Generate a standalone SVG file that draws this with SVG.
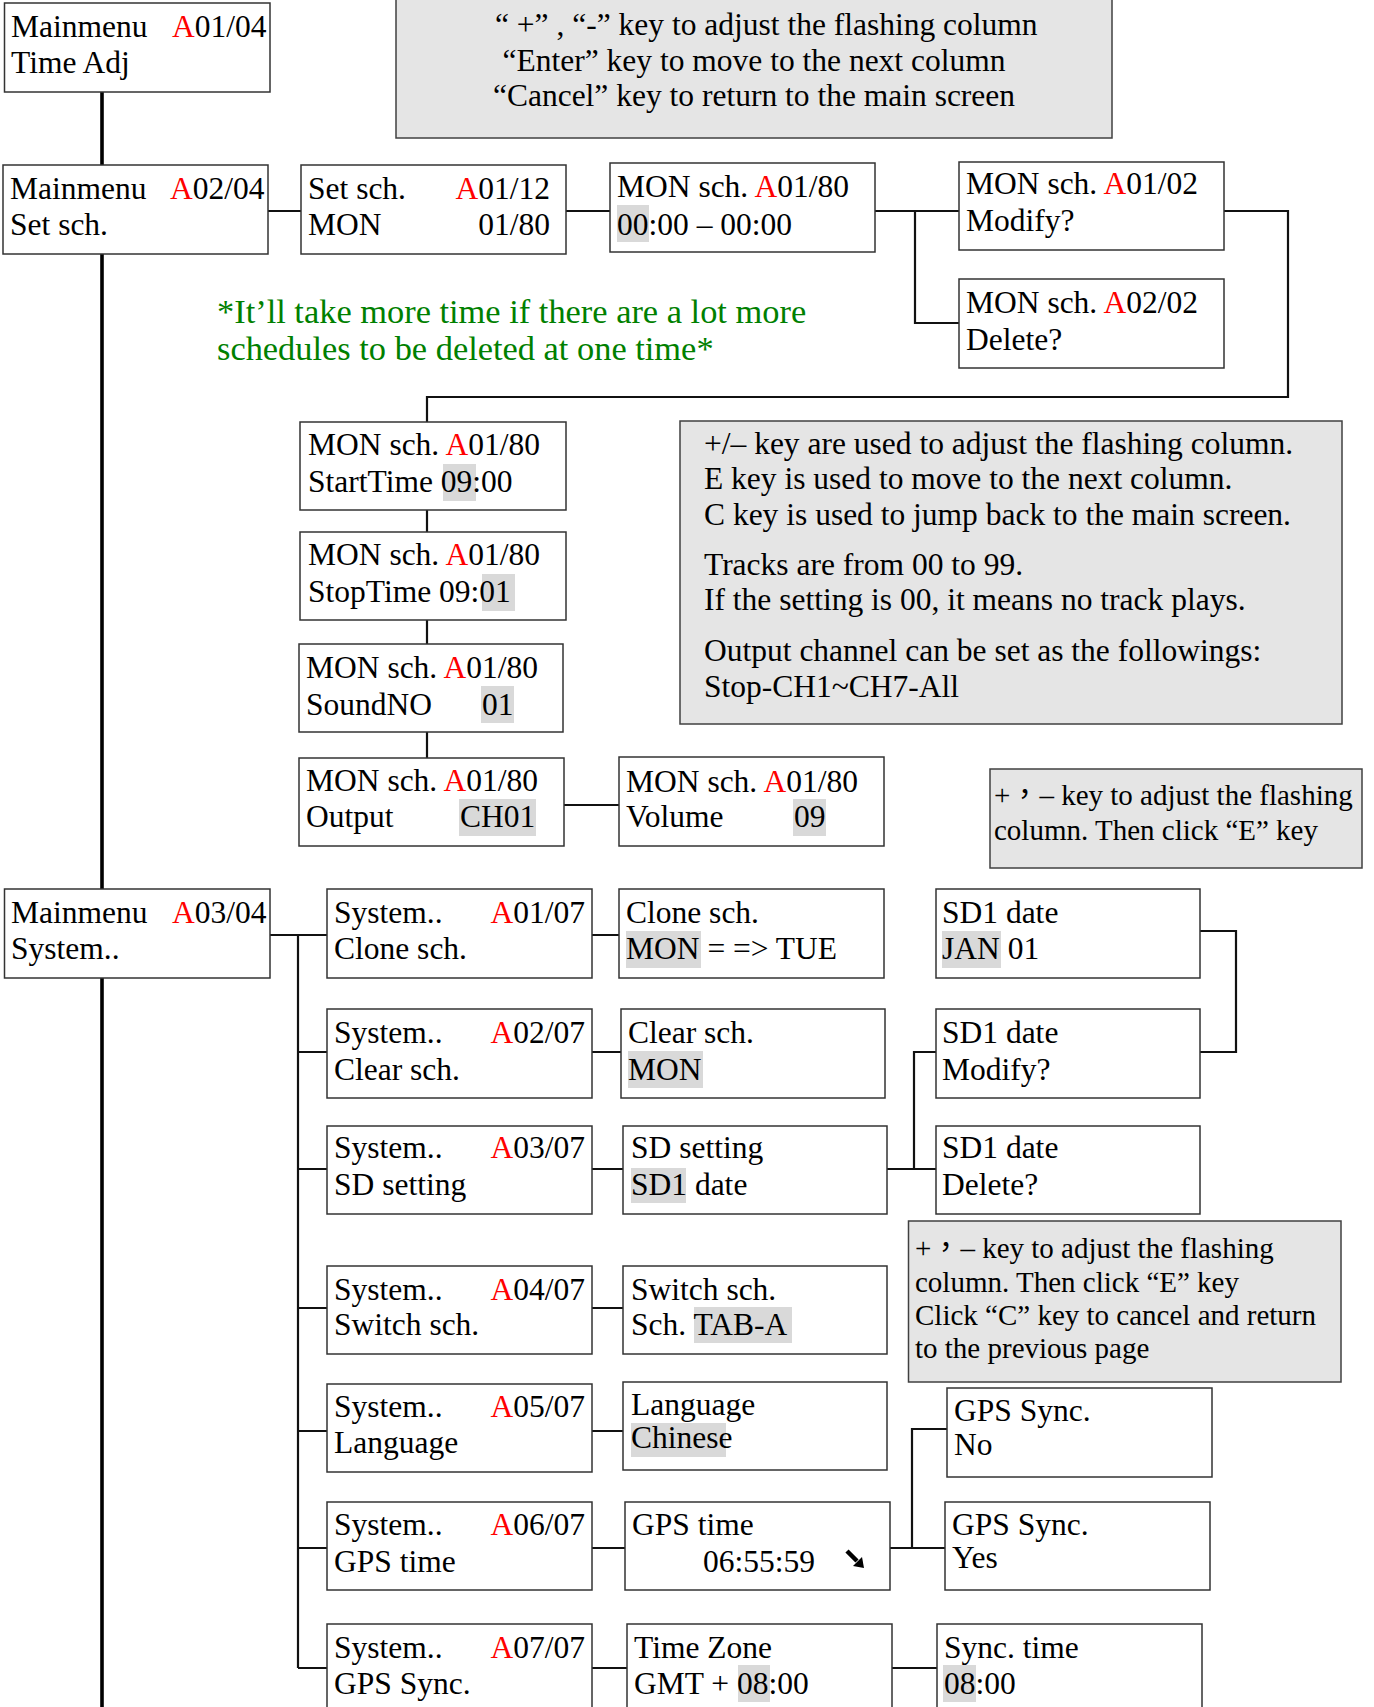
<svg xmlns="http://www.w3.org/2000/svg" width="1374" height="1707" viewBox="0 0 1374 1707">
<style>
.box{fill:#fff;stroke:#333;stroke-width:1.5}
.note{fill:#e5e5e5;stroke:#404040;stroke-width:1.5}
.hl{fill:#d9d9d9}
.t{font-family:"Liberation Serif","Times New Roman",serif;font-size:31.5px;fill:#000}
.s{font-size:29px}
.r{fill:#ff0000}
.g{fill:#008000;font-size:34.4px}
.cjk{font-family:"Noto Sans CJK TC","Liberation Serif",sans-serif}
.c{fill:none;stroke:#111;stroke-width:2.2}
.trunk{fill:none;stroke:#000;stroke-width:3.6}
</style>
<rect width="1374" height="1707" fill="#fff"/>

<g id="connectors">
<path class="trunk" d="M102 92V165M102 254V889M102 978V1707"/>
<path class="c" d="M268 211H301M566 211H610M875 211H959M915 211V323H959"/>
<path class="c" d="M1224 211H1288V397H427V422"/>
<path class="c" d="M427 510V532M427 620V644M427 732V758M564 805H619"/>
<path class="c" d="M270 935H327M298 935V1668M298 1052H327M298 1169H327M298 1308H327M298 1431H327M298 1548H327M298 1668H327"/>
<path class="c" d="M592 935H619M592 1052H621M592 1169H623M592 1308H623M592 1431H623M592 1548H625M592 1668H627"/>
<path class="c" d="M887 1169H936M914 1169V1052H936"/>
<path class="c" d="M1200 931H1236V1052H1200"/>
<path class="c" d="M890 1548H945M912 1548V1429H947"/>
<path class="c" d="M892 1668H937"/>
</g>

<g id="note1">
<rect class="note" x="396" y="-2" width="716" height="140"/>
<text class="t" x="495" y="35">“ +” , “-” key to adjust the flashing column</text>
<text class="t" x="754" y="71" text-anchor="middle">“Enter” key to move to the next column</text>
<text class="t" x="754" y="106" text-anchor="middle">“Cancel” key to return to the main screen</text>
</g>

<g id="n1">
<rect class="box" x="4.5" y="3" width="265.5" height="89"/>
<text class="t" x="11" y="37">Mainmenu</text>
<text class="t" x="172" y="37"><tspan class="r">A</tspan>01/04</text>
<text class="t" x="11" y="73">Time Adj</text>
</g>

<g id="n2">
<rect class="box" x="3" y="165" width="265" height="89"/>
<text class="t" x="10" y="199">Mainmenu</text>
<text class="t" x="170" y="199"><tspan class="r">A</tspan>02/04</text>
<text class="t" x="10" y="235">Set sch.</text>
</g>

<g id="n3">
<rect class="box" x="301" y="165" width="265" height="89"/>
<text class="t" x="308" y="199">Set sch.</text>
<text class="t" x="550" y="199" text-anchor="end"><tspan class="r">A</tspan>01/12</text>
<text class="t" x="308" y="235">MON</text>
<text class="t" x="550" y="235" text-anchor="end">01/80</text>
</g>

<g id="n4">
<rect class="box" x="610" y="163" width="265" height="89"/>
<rect class="hl" x="617" y="205" width="32" height="37"/>
<text class="t" x="617" y="197">MON sch. <tspan class="r">A</tspan>01/80</text>
<text class="t" x="617" y="235">00:00 – 00:00</text>
</g>

<g id="n5">
<rect class="box" x="959" y="162" width="265" height="88"/>
<text class="t" x="966" y="194">MON sch. <tspan class="r">A</tspan>01/02</text>
<text class="t" x="966" y="231">Modify?</text>
</g>

<g id="n6">
<rect class="box" x="959" y="279" width="265" height="89"/>
<text class="t" x="966" y="313">MON sch. <tspan class="r">A</tspan>02/02</text>
<text class="t" x="966" y="350">Delete?</text>
</g>

<g id="note-green">
<text class="t g" x="217" y="323">*It’ll take more time if there are a lot more</text>
<text class="t g" x="217" y="360">schedules to be deleted at one time*</text>
</g>

<g id="n7">
<rect class="box" x="300" y="422" width="266" height="88"/>
<rect class="hl" x="443" y="464" width="33" height="37"/>
<text class="t" x="308" y="455">MON sch. <tspan class="r">A</tspan>01/80</text>
<text class="t" x="308" y="492">StartTime 09:00</text>
</g>

<g id="n8">
<rect class="box" x="300" y="532" width="266" height="88"/>
<rect class="hl" x="482" y="574" width="33" height="37"/>
<text class="t" x="308" y="565">MON sch. <tspan class="r">A</tspan>01/80</text>
<text class="t" x="308" y="602">StopTime 09:01</text>
</g>

<g id="n9">
<rect class="box" x="299" y="644" width="264" height="88"/>
<rect class="hl" x="481" y="686" width="33" height="37"/>
<text class="t" x="306" y="678">MON sch. <tspan class="r">A</tspan>01/80</text>
<text class="t" x="306" y="715">SoundNO</text>
<text class="t" x="482" y="715">01</text>
</g>

<g id="n10">
<rect class="box" x="299" y="758" width="265" height="88"/>
<rect class="hl" x="459" y="799" width="77" height="37"/>
<text class="t" x="306" y="791">MON sch. <tspan class="r">A</tspan>01/80</text>
<text class="t" x="306" y="827">Output</text>
<text class="t" x="460" y="827">CH01</text>
</g>

<g id="n11">
<rect class="box" x="619" y="757" width="265" height="89"/>
<rect class="hl" x="793" y="799" width="33" height="37"/>
<text class="t" x="626" y="792">MON sch. <tspan class="r">A</tspan>01/80</text>
<text class="t" x="626" y="827">Volume</text>
<text class="t" x="794" y="827">09</text>
</g>

<g id="note2">
<rect class="note" x="680" y="421" width="662" height="303"/>
<text class="t" x="704" y="454">+/– key are used to adjust the flashing column.</text>
<text class="t" x="704" y="489">E key is used to move to the next column.</text>
<text class="t" x="704" y="525">C key is used to jump back to the main screen.</text>
<text class="t" x="704" y="575">Tracks are from 00 to 99.</text>
<text class="t" x="704" y="610">If the setting is 00, it means no track plays.</text>
<text class="t" x="704" y="661">Output channel can be set as the followings:</text>
<text class="t" x="704" y="697">Stop-CH1~CH7-All</text>
</g>

<g id="note3">
<rect class="note" x="990" y="769" width="372" height="99"/>
<text class="t s" x="994" y="805">+<tspan class="cjk">，</tspan>– key to adjust the flashing</text>
<text class="t s" x="994" y="840">column. Then click “E” key</text>
</g>

<g id="n12">
<rect class="box" x="4.5" y="889" width="265.5" height="89"/>
<text class="t" x="11" y="923">Mainmenu</text>
<text class="t" x="172" y="923"><tspan class="r">A</tspan>03/04</text>
<text class="t" x="11" y="959">System..</text>
</g>

<g id="n13">
<rect class="box" x="327" y="889" width="265" height="89"/>
<text class="t" x="334" y="923">System..</text>
<text class="t" x="585" y="923" text-anchor="end"><tspan class="r">A</tspan>01/07</text>
<text class="t" x="334" y="959">Clone sch.</text>
</g>

<g id="n14">
<rect class="box" x="619" y="889" width="265" height="89"/>
<rect class="hl" x="626" y="931" width="75" height="37"/>
<text class="t" x="626" y="923">Clone sch.</text>
<text class="t" x="626" y="959">MON = =&gt; TUE</text>
</g>

<g id="n15">
<rect class="box" x="936" y="889" width="264" height="89"/>
<rect class="hl" x="942" y="931" width="59" height="37"/>
<text class="t" x="942" y="923">SD1 date</text>
<text class="t" x="942" y="959">JAN 01</text>
</g>

<g id="n16">
<rect class="box" x="327" y="1009" width="265" height="89"/>
<text class="t" x="334" y="1043">System..</text>
<text class="t" x="585" y="1043" text-anchor="end"><tspan class="r">A</tspan>02/07</text>
<text class="t" x="334" y="1080">Clear sch.</text>
</g>

<g id="n17">
<rect class="box" x="621" y="1009" width="264" height="89"/>
<rect class="hl" x="628" y="1051" width="75" height="37"/>
<text class="t" x="628" y="1043">Clear sch.</text>
<text class="t" x="628" y="1080">MON</text>
</g>

<g id="n18">
<rect class="box" x="936" y="1009" width="264" height="89"/>
<text class="t" x="942" y="1043">SD1 date</text>
<text class="t" x="942" y="1080">Modify?</text>
</g>

<g id="n19">
<rect class="box" x="327" y="1126" width="265" height="88"/>
<text class="t" x="334" y="1158">System..</text>
<text class="t" x="585" y="1158" text-anchor="end"><tspan class="r">A</tspan>03/07</text>
<text class="t" x="334" y="1195">SD setting</text>
</g>

<g id="n20">
<rect class="box" x="623" y="1126" width="264" height="88"/>
<rect class="hl" x="631" y="1168" width="55" height="35"/>
<text class="t" x="631" y="1158">SD setting</text>
<text class="t" x="631" y="1195">SD1 date</text>
</g>

<g id="n21">
<rect class="box" x="936" y="1126" width="264" height="88"/>
<text class="t" x="942" y="1158">SD1 date</text>
<text class="t" x="942" y="1195">Delete?</text>
</g>

<g id="note4">
<rect class="note" x="908.5" y="1221" width="432.5" height="161"/>
<text class="t s" x="915" y="1258">+<tspan class="cjk">，</tspan>– key to adjust the flashing</text>
<text class="t s" x="915" y="1292">column. Then click “E” key</text>
<text class="t s" x="915" y="1325">Click “C” key to cancel and return</text>
<text class="t s" x="915" y="1358">to the previous page</text>
</g>

<g id="n22">
<rect class="box" x="327" y="1266" width="265" height="88"/>
<text class="t" x="334" y="1300">System..</text>
<text class="t" x="585" y="1300" text-anchor="end"><tspan class="r">A</tspan>04/07</text>
<text class="t" x="334" y="1335">Switch sch.</text>
</g>

<g id="n23">
<rect class="box" x="623" y="1266" width="264" height="88"/>
<rect class="hl" x="694" y="1307" width="98" height="36"/>
<text class="t" x="631" y="1300">Switch sch.</text>
<text class="t" x="631" y="1335">Sch. TAB-A</text>
</g>

<g id="n24">
<rect class="box" x="327" y="1384" width="265" height="88"/>
<text class="t" x="334" y="1417">System..</text>
<text class="t" x="585" y="1417" text-anchor="end"><tspan class="r">A</tspan>05/07</text>
<text class="t" x="334" y="1453">Language</text>
</g>

<g id="n25">
<rect class="box" x="623" y="1382" width="264" height="88"/>
<rect class="hl" x="631" y="1423" width="95" height="34"/>
<text class="t" x="631" y="1415">Language</text>
<text class="t" x="631" y="1448">Chinese</text>
</g>

<g id="n26">
<rect class="box" x="327" y="1502" width="265" height="88"/>
<text class="t" x="334" y="1535">System..</text>
<text class="t" x="585" y="1535" text-anchor="end"><tspan class="r">A</tspan>06/07</text>
<text class="t" x="334" y="1572">GPS time</text>
</g>

<g id="n27">
<rect class="box" x="625" y="1502" width="265" height="88"/>
<text class="t" x="632" y="1535">GPS time</text>
<text class="t" x="703" y="1572">06:55:59</text>
<path d="M847 1551L857 1561" stroke="#000" stroke-width="4.5" fill="none"/>
<polygon points="864,1568 853,1566 862,1557" fill="#000"/>
</g>

<g id="n28">
<rect class="box" x="947" y="1388" width="265" height="89"/>
<text class="t" x="954" y="1421">GPS Sync.</text>
<text class="t" x="954" y="1455">No</text>
</g>

<g id="n29">
<rect class="box" x="945" y="1502" width="265" height="88"/>
<text class="t" x="952" y="1535">GPS Sync.</text>
<text class="t" x="952" y="1568">Yes</text>
</g>

<g id="n30">
<rect class="box" x="327" y="1624" width="265" height="100"/>
<text class="t" x="334" y="1658">System..</text>
<text class="t" x="585" y="1658" text-anchor="end"><tspan class="r">A</tspan>07/07</text>
<text class="t" x="334" y="1694">GPS Sync.</text>
</g>

<g id="n31">
<rect class="box" x="627" y="1624" width="265" height="100"/>
<rect class="hl" x="738" y="1665" width="32" height="37"/>
<text class="t" x="634" y="1658">Time Zone</text>
<text class="t" x="634" y="1694">GMT + 08:00</text>
</g>

<g id="n32">
<rect class="box" x="937" y="1624" width="265" height="100"/>
<rect class="hl" x="943" y="1665" width="33" height="37"/>
<text class="t" x="944" y="1658">Sync. time</text>
<text class="t" x="944" y="1694">08:00</text>
</g>
</svg>
